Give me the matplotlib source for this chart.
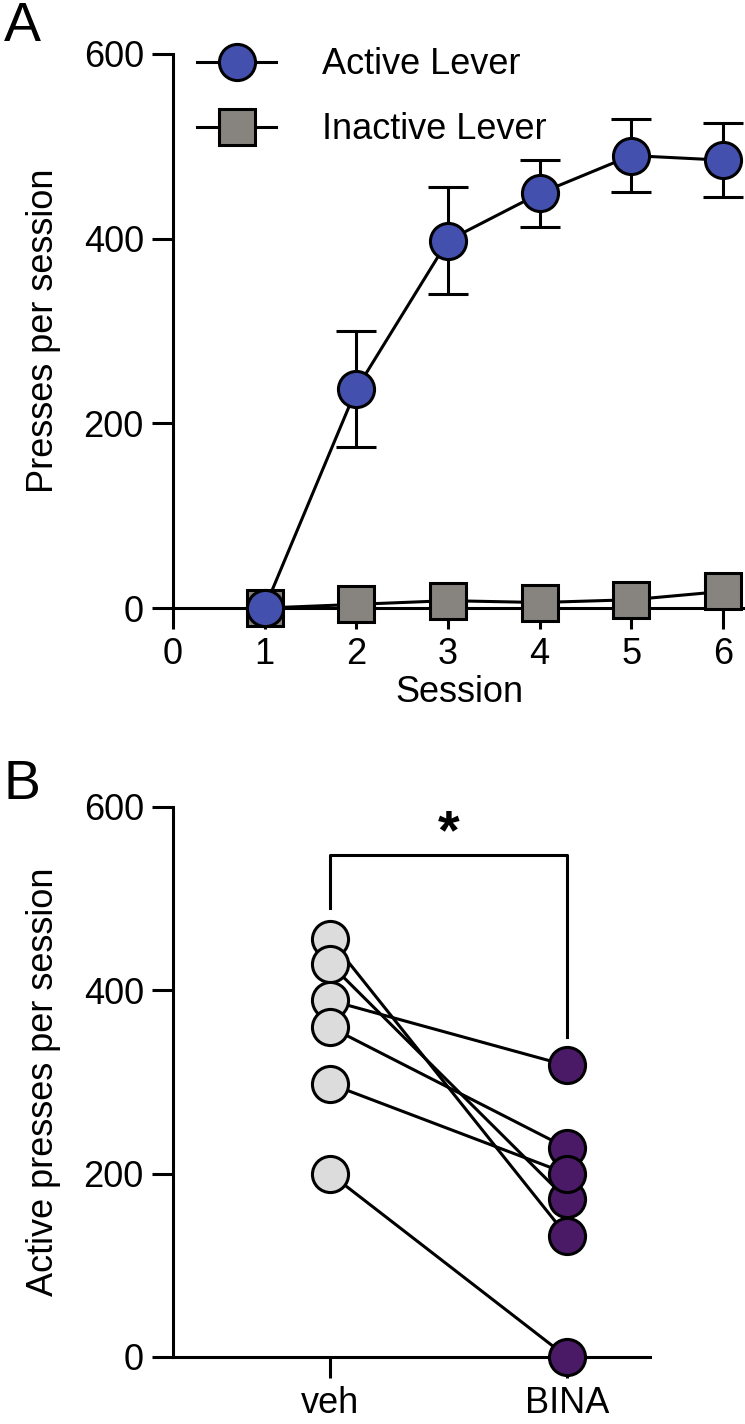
import numpy as np
import matplotlib
matplotlib.use('Agg')
from matplotlib import pyplot as plt
from matplotlib.lines import Line2D

plt.rcParams['font.family'] = ['Liberation Sans', 'DejaVu Sans']

# panel A data
sessions = [1, 2, 3, 4, 5, 6]
active_mean = [0, 237, 398, 449, 490, 485]
active_sem = [0, 63, 58, 36, 40, 40]
inactive_mean = [0, 4, 8, 6, 9, 18]

# panel B data (paired)
groups = ['veh', 'BINA']
veh_vals = [456, 429, 389, 360, 298, 200]
bina_vals = [132, 172, 318, 228, 200, 0]

blue = '#4450ae'
grey = '#87837f'
light = '#dcdcdc'
purple = '#4a1a66'
lw = 2.2
fs = 26
ms = 26

fig = plt.figure(figsize=(7.45, 14.24), dpi=100)

#Panel A
axA = fig.add_axes([0.2322, 0.5730, 0.7678, 0.3891])
axA.plot(sessions, inactive_mean, color='k', lw=lw, marker='s', ms=ms,
         mfc=grey, mec='k', mew=lw, clip_on=False, zorder=3)
axA.errorbar(sessions, active_mean, yerr=active_sem, color='k', lw=lw,
             elinewidth=lw, capsize=14.5, capthick=lw, fmt='none',
             clip_on=False, zorder=4)
axA.plot(sessions, active_mean, color='k', lw=lw, marker='o', ms=ms,
         mfc=blue, mec='k', mew=lw, clip_on=False, zorder=5)
axA.set_xlim(0, 6.24)
axA.set_ylim(0, 600)
axA.set_xticks(range(0, 7))
axA.set_yticks([0, 200, 400, 600])
axA.set_xlabel('Session', fontsize=fs, labelpad=2)
axA.set_ylabel('Presses per session', fontsize=fs, labelpad=16)

handles = [Line2D([], [], color='k', lw=lw, marker='o', ms=ms, mfc=blue, mec='k', mew=lw),
           Line2D([], [], color='k', lw=lw, marker='s', ms=ms, mfc=grey, mec='k', mew=lw)]
axA.legend(handles, ['Active Lever', 'Inactive Lever'], loc='upper left',
           bbox_to_anchor=(0.042, 1.012), frameon=False, fontsize=fs,
           handlelength=2.2, handletextpad=1.25, labelspacing=0.83,
           borderpad=0, borderaxespad=0)

#Panel B
axB = fig.add_axes([0.2322, 0.0471, 0.640, 0.3862])
for v, b in zip(veh_vals, bina_vals):
    axB.plot([1, 2], [v, b], color='k', lw=lw, zorder=2)
axB.plot(np.ones(len(veh_vals)), veh_vals, 'o', ms=ms, mfc=light, mec='k',
         mew=lw, clip_on=False, zorder=3)
axB.plot(np.full(len(bina_vals), 2), bina_vals, 'o', ms=ms, mfc=purple, mec='k',
         mew=lw, clip_on=False, zorder=3)
axB.set_xlim(0.3376, 2.35)
axB.set_ylim(0, 600)
axB.set_xticks([1, 2])
axB.set_xticklabels(groups)
axB.set_yticks([0, 200, 400, 600])
axB.set_ylabel('Active presses per session', fontsize=fs, labelpad=16)

# significance bracket
axB.plot([1, 1, 2, 2], [490, 548, 548, 349], color='k', lw=lw, clip_on=False)
axB.text(1.5, 570, '*', ha='center', va='center', fontsize=40, fontweight='bold')

for ax in [axA, axB]:
    ax.spines['top'].set_visible(False)
    ax.spines['right'].set_visible(False)
    ax.spines['left'].set_linewidth(lw)
    ax.spines['bottom'].set_linewidth(lw)
    ax.tick_params(direction='out', length=15, width=lw, labelsize=fs, pad=6)

fig.text(0.005, 0.999, 'A', fontsize=40, va='top', ha='left')
fig.text(0.005, 0.467, 'B', fontsize=40, va='top', ha='left')

fig.savefig('out.png', dpi=100)
